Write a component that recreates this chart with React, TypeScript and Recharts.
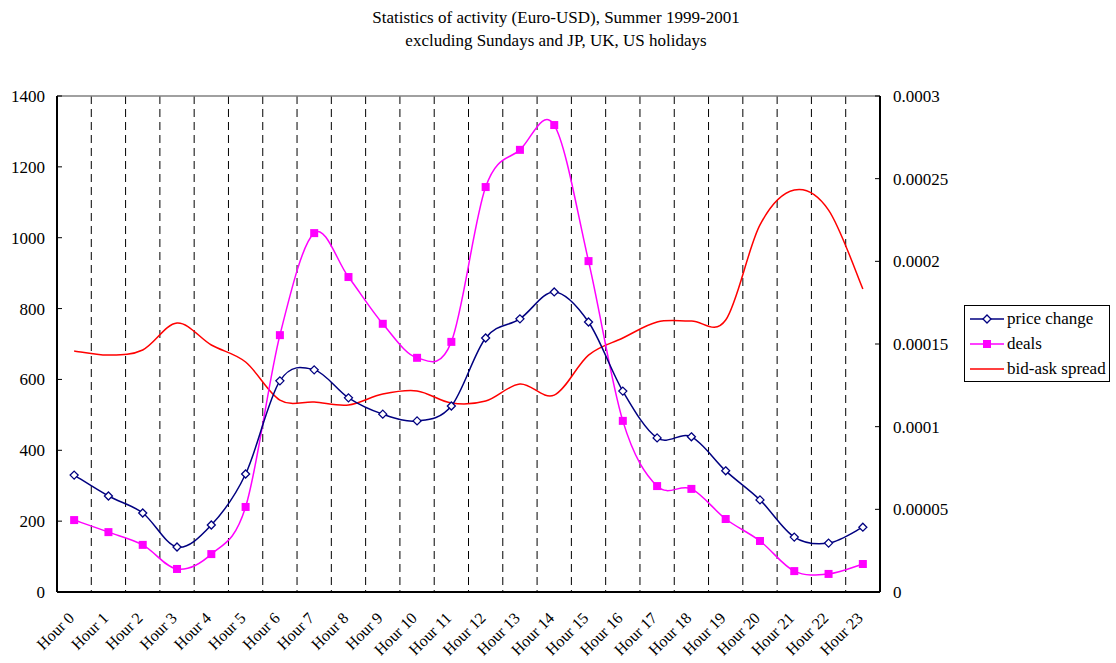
import React from "react";
import {
  ComposedChart,
  Line,
  XAxis,
  YAxis,
  CartesianGrid,
  ReferenceLine,
} from "recharts";

const hours = [
  "Hour 0", "Hour 1", "Hour 2", "Hour 3", "Hour 4", "Hour 5", "Hour 6", "Hour 7",
  "Hour 8", "Hour 9", "Hour 10", "Hour 11", "Hour 12", "Hour 13", "Hour 14", "Hour 15",
  "Hour 16", "Hour 17", "Hour 18", "Hour 19", "Hour 20", "Hour 21", "Hour 22", "Hour 23",
];

const priceChange = [
  330, 271, 223, 127, 189, 333, 596, 627, 548, 502, 483, 525,
  717, 771, 847, 762, 567, 435, 438, 342, 260, 155, 138, 183,
];

const deals = [
  203, 169, 133, 65, 107, 240, 725, 1013, 889, 757, 661, 706,
  1143, 1248, 1318, 934, 483, 299, 291, 206, 144, 59, 51, 79,
];

const bidAskSpread = [
  0.0001458, 0.0001433, 0.0001464, 0.0001627, 0.0001494, 0.0001391, 0.0001161, 0.0001149,
  0.0001131, 0.0001197, 0.0001216, 0.0001143, 0.0001155, 0.0001258, 0.0001191, 0.0001433,
  0.0001536, 0.0001633, 0.0001639, 0.0001645, 0.000222, 0.0002431, 0.000231, 0.0001833,
];

const leftTicks = [0, 200, 400, 600, 800, 1000, 1200, 1400];
const rightTicks = [0, 0.00005, 0.0001, 0.00015, 0.0002, 0.00025, 0.0003];

const data = hours.map((h, i) => ({
  hour: h,
  price: priceChange[i],
  deals: deals[i],
  spread: bidAskSpread[i],
}));

const FONT = '"Liberation Serif", "Times New Roman", serif';
const FS = 17;

// excel-like smoothing (catmull-rom through the points)
function excelSmooth(context: any) {
  let pts: number[][] = [];
  return {
    areaStart() {},
    areaEnd() {},
    lineStart() {
      pts = [];
    },
    point(x: number, y: number) {
      pts.push([+x, +y]);
    },
    lineEnd() {
      if (!pts.length) return;
      context.moveTo(pts[0][0], pts[0][1]);
      for (let i = 0; i < pts.length - 1; i++) {
        const p0 = pts[i - 1] || pts[i];
        const p1 = pts[i];
        const p2 = pts[i + 1];
        const p3 = pts[i + 2] || pts[i + 1];
        context.bezierCurveTo(
          p1[0] + (p2[0] - p0[0]) / 6,
          p1[1] + (p2[1] - p0[1]) / 6,
          p2[0] - (p3[0] - p1[0]) / 6,
          p2[1] - (p3[1] - p1[1]) / 6,
          p2[0],
          p2[1]
        );
      }
    },
  };
}

const fmtRight = (v: number) => (v === 0 ? "0" : v.toFixed(5).replace(/0+$/, ""));

const Diamond = (props: any) => {
  const { cx, cy } = props;
  if (cx == null || cy == null) return null;
  return (
    <polygon
      key={`d-${cx}`}
      points={`${cx},${cy - 4} ${cx + 4},${cy} ${cx},${cy + 4} ${cx - 4},${cy}`}
      fill="#fff"
      stroke="#000080"
      strokeWidth={1.3}
    />
  );
};

const Square = (props: any) => {
  const { cx, cy } = props;
  if (cx == null || cy == null) return null;
  return <rect key={`s-${cx}`} x={cx - 4} y={cy - 4} width={8} height={8} fill="#FF00FF" />;
};

const HourTick = (props: any) => {
  const { x, y, payload } = props;
  return (
    <g transform={`translate(${x - 3},${y + 15})`}>
      <text
        x={0}
        y={0}
        dy="0.35em"
        textAnchor="end"
        transform="rotate(-45)"
        fontSize={16}
        fontFamily={FONT}
        fill="#000"
      >
        {payload.value}
      </text>
    </g>
  );
};

const legendRows = [
  { name: "price change", color: "#000080", mark: "diamond" },
  { name: "deals", color: "#FF00FF", mark: "square" },
  { name: "bid-ask spread", color: "#FF0000", mark: "none" },
];

const LegendBox = () => (
  <div
    style={{
      position: "absolute",
      left: 964,
      top: 305,
      width: 144,
      height: 75,
      border: "1px solid #000",
      background: "#fff",
      boxSizing: "content-box",
      fontFamily: FONT,
      fontSize: FS,
    }}
  >
    {legendRows.map((r) => (
      <div key={r.name} style={{ display: "flex", alignItems: "center", height: 25 }}>
        <svg width={36} height={12} style={{ marginLeft: 4, marginRight: 2 }}>
          <line x1={1} y1={6} x2={35} y2={6} stroke={r.color} strokeWidth={1.5} />
          {r.mark === "diamond" && (
            <polygon points="18,2 22,6 18,10 14,6" fill="#fff" stroke={r.color} strokeWidth={1.3} />
          )}
          {r.mark === "square" && <rect x={14} y={2} width={8} height={8} fill={r.color} />}
        </svg>
        <span>{r.name}</span>
      </div>
    ))}
  </div>
);

export default function App() {
  return (
    <div
      style={{
        position: "absolute",
        left: 0,
        top: 0,
        width: 1116,
        height: 663,
        background: "#fff",
        fontFamily: FONT,
      }}
    >
      <div
        style={{
          position: "absolute",
          left: 0,
          top: 6,
          width: 1112,
          textAlign: "center",
          fontSize: FS,
          lineHeight: "23px",
        }}
      >
        <div>Statistics of activity (Euro-USD), Summer 1999-2001</div>
        <div>excluding Sundays and JP, UK, US holidays</div>
      </div>
      <ComposedChart
        width={1116}
        height={663}
        data={data}
        margin={{ top: 96, right: 176, bottom: 0, left: 0 }}
        style={{ position: "absolute", left: 0, top: 0 }}
      >
        <CartesianGrid
          horizontal={false}
          stroke="#000"
          strokeDasharray="8 5"
          verticalCoordinatesGenerator={({ offset }: any) =>
            hours.slice(1).map((_, i) => offset.left + ((i + 1) * offset.width) / hours.length)
          }
        />
        <XAxis
          dataKey="hour"
          scale="band"
          interval={0}
          height={71}
          tickLine={false}
          axisLine={{ stroke: "#000", strokeWidth: 2 }}
          tick={<HourTick />}
        />
        <YAxis
          yAxisId="left"
          domain={[0, 1400]}
          ticks={leftTicks}
          width={57}
          tickSize={-5}
          tickMargin={17}
          axisLine={{ stroke: "#000", strokeWidth: 2 }}
          tickLine={{ stroke: "#000" }}
          tick={{ fill: "#000", fontSize: FS, fontFamily: FONT }}
        />
        <YAxis
          yAxisId="right"
          orientation="right"
          domain={[0, 0.0003]}
          ticks={rightTicks}
          tickFormatter={fmtRight}
          width={60}
          tickSize={-5}
          tickMargin={18}
          axisLine={{ stroke: "#000", strokeWidth: 2 }}
          tickLine={{ stroke: "#000" }}
          tick={{ fill: "#000", fontSize: FS, fontFamily: FONT, textAnchor: "start" }}
        />
        <ReferenceLine yAxisId="left" y={1400} stroke="#808080" strokeWidth={1.5} />
        <Line
          yAxisId="right"
          dataKey="spread"
          name="bid-ask spread"
          type={excelSmooth as any}
          stroke="#FF0000"
          strokeWidth={1.5}
          dot={false}
          activeDot={false}
          isAnimationActive={false}
        />
        <Line
          yAxisId="left"
          dataKey="deals"
          name="deals"
          type={excelSmooth as any}
          stroke="#FF00FF"
          strokeWidth={1.5}
          dot={<Square />}
          activeDot={false}
          isAnimationActive={false}
        />
        <Line
          yAxisId="left"
          dataKey="price"
          name="price change"
          type={excelSmooth as any}
          stroke="#000080"
          strokeWidth={1.5}
          dot={<Diamond />}
          activeDot={false}
          isAnimationActive={false}
        />
      </ComposedChart>
      <LegendBox />
    </div>
  );
}
